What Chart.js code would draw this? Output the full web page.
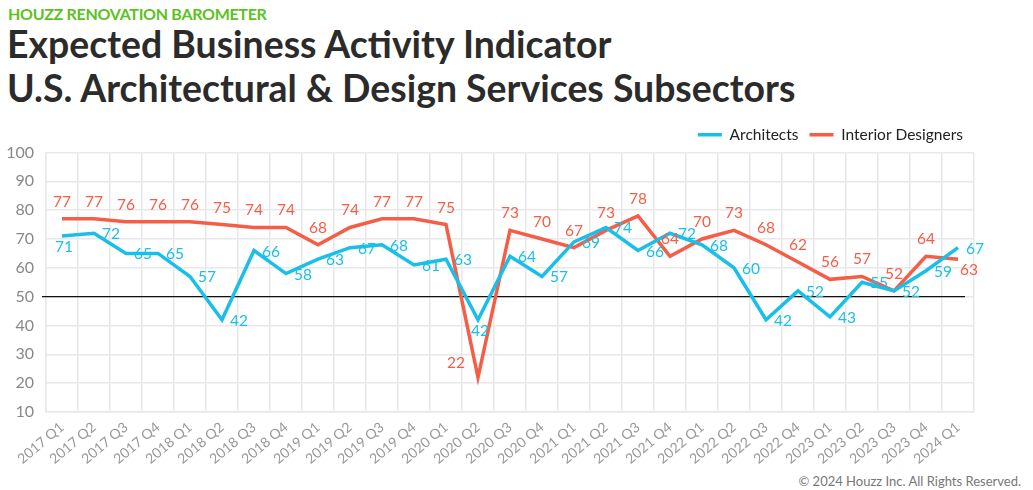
<!DOCTYPE html>
<html>
<head>
<meta charset="utf-8">
<script src="https://cdn.jsdelivr.net/npm/chart.js@4/dist/chart.umd.min.js"></script>
<style>
  body { margin: 0; background: #fff; width: 1033px; height: 490px; overflow: hidden; position: relative; font-family: Lato, sans-serif; }
  .kicker { position: absolute; left: 8px; top: 4px; font: 700 16px Lato, sans-serif; color: #5bc21e; letter-spacing: -0.3px; }
  .title { position: absolute; left: 7px; top: 22px; font: 700 37.4px Lato, sans-serif; color: #2b2b2b; line-height: 44px; }
  .copy { position: absolute; right: 12px; top: 473px; font: 13px Lato, sans-serif; color: #777; }
  .wrap { position: absolute; left: 0; top: 116px; width: 1033px; height: 354px; }
</style>
</head>
<body>
<div class="kicker">HOUZZ RENOVATION BAROMETER</div>
<div class="title">Expected Business Activity Indicator<br>U.S. Architectural &amp; Design Services Subsectors</div>
<div class="wrap"><canvas id="chart"></canvas></div>
<div class="copy">© 2024 Houzz Inc. All Rights Reserved.</div>
<script>
const quarters = [
  "2017 Q1", "2017 Q2", "2017 Q3", "2017 Q4",
  "2018 Q1", "2018 Q2", "2018 Q3", "2018 Q4",
  "2019 Q1", "2019 Q2", "2019 Q3", "2019 Q4",
  "2020 Q1", "2020 Q2", "2020 Q3", "2020 Q4",
  "2021 Q1", "2021 Q2", "2021 Q3", "2021 Q4",
  "2022 Q1", "2022 Q2", "2022 Q3", "2022 Q4",
  "2023 Q1", "2023 Q2", "2023 Q3", "2023 Q4",
  "2024 Q1"
]
const architects = [71, 72, 65, 65, 57, 42, 66, 58, 63, 67, 68, 61, 63, 42, 64, 57, 69, 74, 66, 72, 68, 60, 42, 52, 43, 55, 52, 59, 67]
const interiorDesigners = [77, 77, 76, 76, 76, 75, 74, 74, 68, 74, 77, 77, 75, 22, 73, 70, 67, 73, 78, 64, 70, 73, 68, 62, 56, 57, 52, 64, 63]
const baseline = 50
const yMin = 10
const yMax = 100

const blue = "#19bfe9"
const orange = "#f55d47"

// where each value label sits relative to its point
const archPlace = architects.map((v, i) => (i === 0 || i === 13) ? "below" : "right")
const intPlace = interiorDesigners.map((v, i) => i === 13 ? "left" : (i === 28 ? "belowRight" : "above"))

const valueLabels = {
  id: "valueLabels",
  afterDatasetsDraw(chart) {
    const ctx = chart.ctx
    ctx.save()
    ctx.font = "15.5px Lato, sans-serif"
    ctx.textAlign = "center"
    ctx.textBaseline = "middle"
    chart.data.datasets.forEach((ds, di) => {
      const meta = chart.getDatasetMeta(di)
      const places = di === 0 ? archPlace : intPlace
      ctx.fillStyle = ds.borderColor
      meta.data.forEach((pt, i) => {
        let x = pt.x, y = pt.y
        const p = places[i]
        if (p === "above") y -= 17
        else if (p === "below") { y += 11; x += 2 }
        else if (p === "right") { x += 17; y += 1 }
        else if (p === "left") { x -= 22; y -= 14 }
        else if (p === "belowRight") { x += 11; y += 11 }
        ctx.fillText(ds.data[i], x, y)
      })
    })
    ctx.restore()
  }
}

const baseLine = {
  id: "baseLine",
  beforeDatasetsDraw(chart) {
    const ctx = chart.ctx
    const y = chart.scales.y.getPixelForValue(baseline)
    ctx.save()
    ctx.strokeStyle = "#111"
    ctx.lineWidth = 1.2
    ctx.beginPath()
    ctx.moveTo(chart.chartArea.left - 4, y)
    ctx.lineTo(chart.chartArea.right - 9, y)
    ctx.stroke()
    ctx.restore()
  }
}

new Chart(document.getElementById("chart"), {
  type: "line",
  data: {
    labels: quarters,
    datasets: [{
      label: "Architects",
      data: architects,
      borderColor: blue,
      backgroundColor: blue,
      borderWidth: 3.5,
      pointRadius: 0,
      tension: 0
    }, {
      label: "Interior Designers",
      data: interiorDesigners,
      borderColor: orange,
      backgroundColor: orange,
      borderWidth: 3.5,
      pointRadius: 0,
      tension: 0
    }]
  },
  options: {
    responsive: true,
    maintainAspectRatio: false,
    animation: false,
    layout: { padding: { left: 2, right: 59, top: 0, bottom: 0 } },
    plugins: {
      legend: {
        position: "top",
        align: "end",
        labels: {
          usePointStyle: true,
          pointStyle: "line",
          pointStyleWidth: 24,
          color: "#222",
          font: { family: "Lato, sans-serif", size: 15.5 },
          padding: 11
        }
      },
      tooltip: { enabled: false }
    },
    scales: {
      x: {
        offset: true,
        afterFit: s => { s.height = 58 },
        grid: { offset: true, color: "#e8e8e8", lineWidth: 1.5, drawTicks: false },
        border: { color: "#e8e8e8", width: 1.5 },
        ticks: {
          color: "#999",
          font: { family: "Lato, sans-serif", size: 14 },
          maxRotation: 40,
          minRotation: 40,
          padding: 7,
          autoSkip: false
        }
      },
      y: {
        min: yMin,
        max: yMax,
        afterFit: s => { s.width = 44 },
        grid: { color: "#e8e8e8", lineWidth: 1.5, drawTicks: false },
        border: { color: "#e8e8e8", width: 1.5 },
        ticks: {
          stepSize: 10,
          color: "#888",
          font: { family: "Lato, sans-serif", size: 16 },
          padding: 12
        }
      }
    }
  },
  plugins: [baseLine, valueLabels]
})
</script>
</body>
</html>
